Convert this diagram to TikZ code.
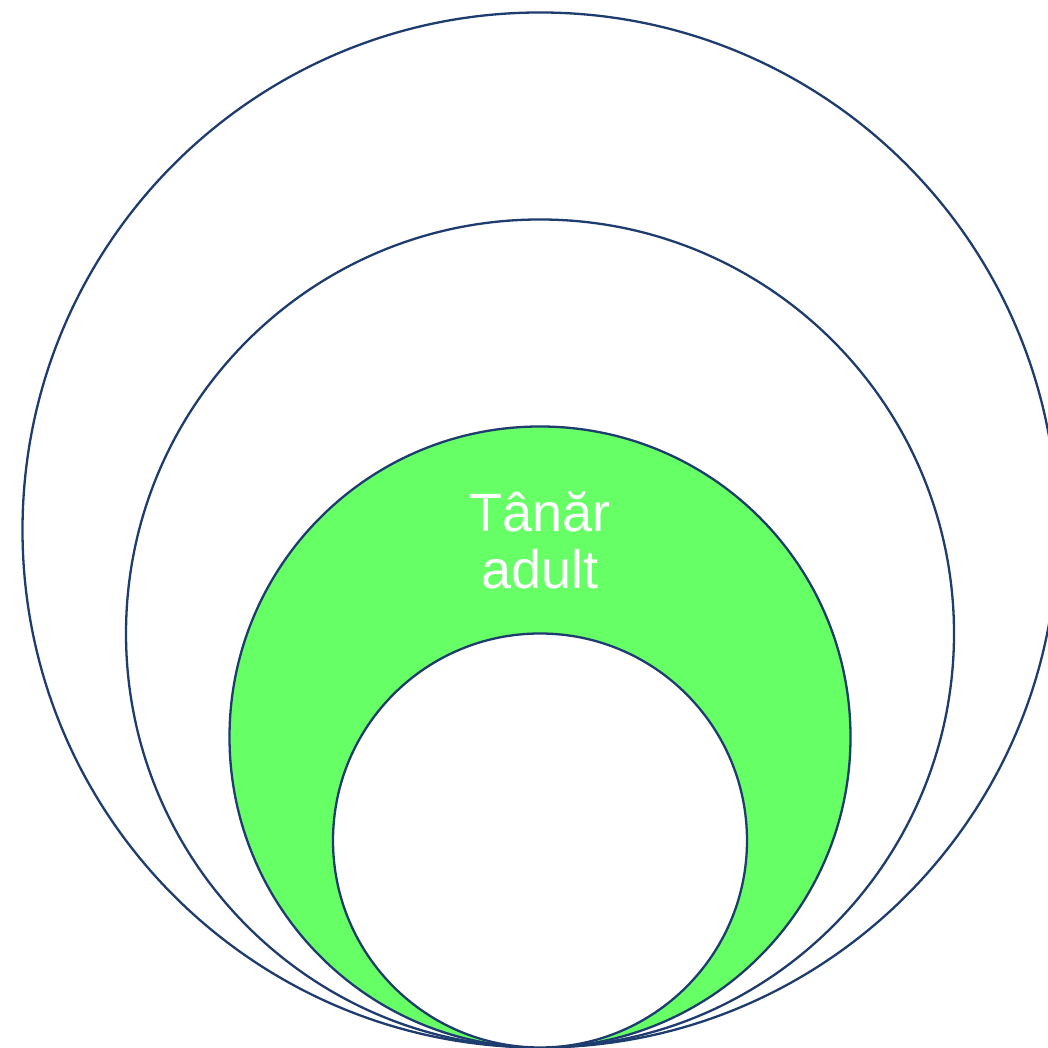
\documentclass[tikz,border=0pt]{standalone}
\usepackage{fontspec}
\setmainfont{Liberation Sans}
\usetikzlibrary{positioning}

\definecolor{ringline}{RGB}{31,60,110}
\definecolor{ringgreen}{RGB}{102,255,102}

\begin{document}
\begin{tikzpicture}[
    x=1pt, y=1pt,
    ring/.style={circle, draw=ringline, line width=2.3pt, inner sep=0pt, outer sep=0pt, anchor=south},
    lbl/.style={font=\fontsize{54}{57}\selectfont, text=white, align=center},
]
\useasboundingbox (0,0) rectangle (1048,1048);

% ---- common tangent point ------------------------------------------
\coordinate (touch) at (540,0.5);

% ---- rings, outermost first -----------------------------------------
\node[ring, fill=white, minimum size=1035pt] (outer) at (touch) {};
\node[ring, fill=white, minimum size=828pt] (second) at (touch) {};
\node[ring, fill=ringgreen, minimum size=621pt] (young) at (touch) {};
\node[ring, fill=white, minimum size=414pt] (inner) at (touch) {};

% ---- label -----------------------------------------------------------
\node[lbl] (ylbl) at (540,508) {Tânăr\\adult};

\end{tikzpicture}
\end{document}
